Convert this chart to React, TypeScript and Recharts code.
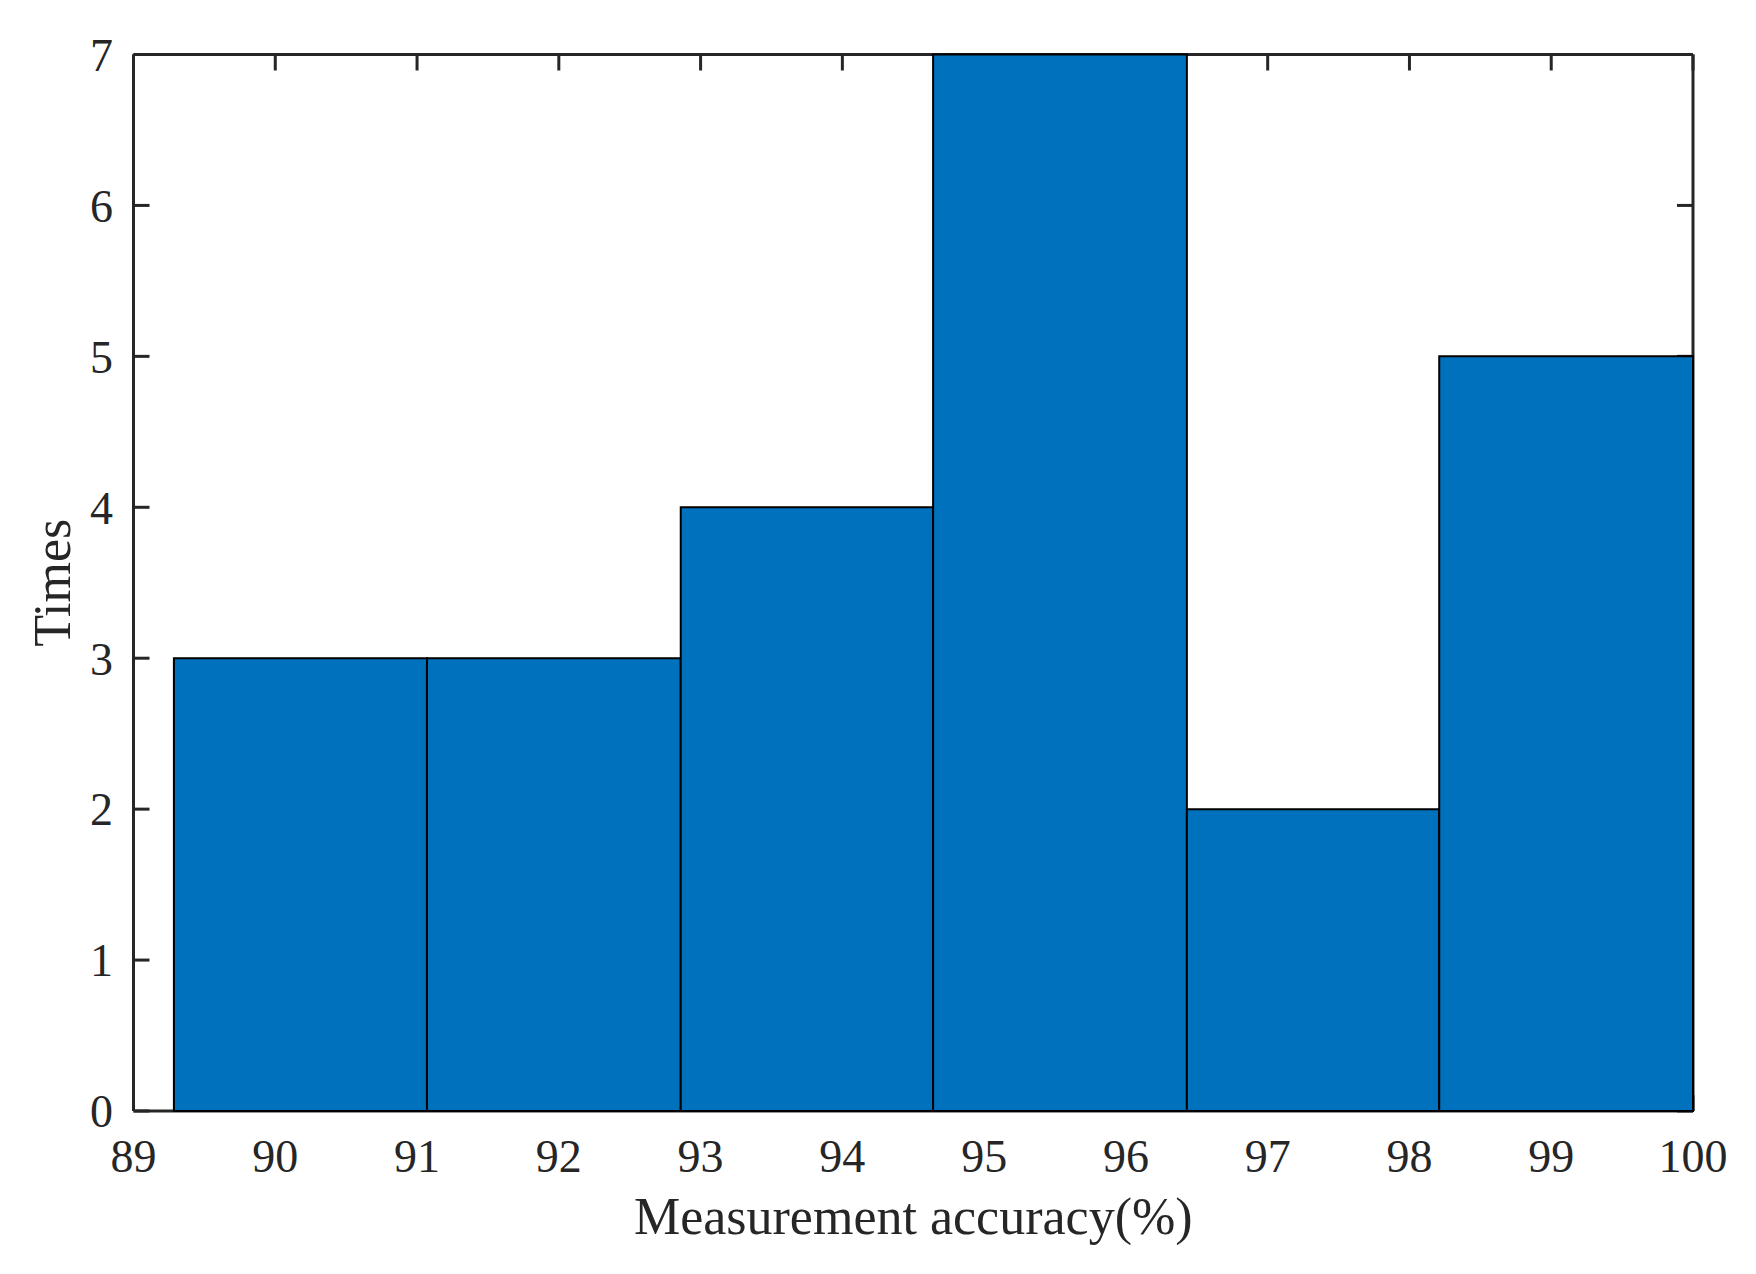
import React from "react";
import {
    ComposedChart,
    XAxis,
    YAxis,
    ReferenceArea,
    Label,
} from "recharts";

// Histogram bins
const binEdges = [89.285, 91.07, 92.86, 94.64, 96.43, 98.21, 100];
const binCounts = [3, 3, 4, 7, 2, 5];

const xTicks = [89, 90, 91, 92, 93, 94, 95, 96, 97, 98, 99, 100];
const yTicks = [0, 1, 2, 3, 4, 5, 6, 7];

const bins = binCounts.map((count, i) => ({
    from: binEdges[i],
    to: binEdges[i + 1],
    mid: (binEdges[i] + binEdges[i + 1]) / 2,
    count,
}));

const AXIS = "#262626";
const FONT = "'Liberation Serif', 'Times New Roman', serif";

// mirror axes (top / right) only show inward tick marks
const blank = () => "";

export default function App() {
    return (
        <div style={{ position: "absolute", left: 0, top: 0, background: "#fff" }}>
            <ComposedChart
                width={1756}
                height={1274}
                data={bins}
                margin={{ top: 0, right: 0, bottom: 0, left: 0 }}
                style={{ fontFamily: FONT }}
            >
                <XAxis
                    xAxisId="top"
                    orientation="top"
                    dataKey="mid"
                    type="number"
                    domain={[89, 100]}
                    ticks={xTicks}
                    interval={0}
                    allowDataOverflow
                    height={54.5}
                    stroke={AXIS}
                    strokeWidth={3}
                    tickSize={-16}
                    tickFormatter={blank}
                />
                <XAxis
                    dataKey="mid"
                    type="number"
                    domain={[89, 100]}
                    ticks={xTicks}
                    interval={0}
                    allowDataOverflow
                    height={163}
                    stroke={AXIS}
                    strokeWidth={3}
                    tickSize={-16}
                    tickMargin={44}
                    tick={{ fill: AXIS, fontSize: 46, fontFamily: FONT }}
                >
                    <Label
                        value="Measurement accuracy(%)"
                        position="insideBottom"
                        offset={40}
                        fill={AXIS}
                        fontSize={52}
                        fontFamily={FONT}
                    />
                </XAxis>
                <YAxis
                    dataKey="count"
                    type="number"
                    domain={[0, 7]}
                    ticks={yTicks}
                    interval={0}
                    allowDataOverflow
                    width={133.5}
                    stroke={AXIS}
                    strokeWidth={3}
                    tickSize={-16}
                    tickMargin={36.5}
                    tick={{ fill: AXIS, fontSize: 46, fontFamily: FONT }}
                >
                    <Label
                        value="Times"
                        angle={-90}
                        position="insideLeft"
                        offset={51.5}
                        fill={AXIS}
                        fontSize={52}
                        fontFamily={FONT}
                        style={{ textAnchor: "middle" }}
                    />
                </YAxis>
                <YAxis
                    yAxisId="right"
                    orientation="right"
                    dataKey="count"
                    type="number"
                    domain={[0, 7]}
                    ticks={yTicks}
                    interval={0}
                    allowDataOverflow
                    width={63}
                    stroke={AXIS}
                    strokeWidth={3}
                    tickSize={-16}
                    tickFormatter={blank}
                />

                {/* one rectangle per histogram bin, drawn over the tick marks */}
                {bins.map((b) => (
                    <ReferenceArea
                        key={b.from}
                        x1={b.from}
                        x2={b.to}
                        y1={0}
                        y2={b.count}
                        fill="#0072BD"
                        fillOpacity={1}
                        stroke="#000"
                        strokeWidth={2}
                        ifOverflow="visible"
                        zIndex={600}
                    />
                ))}
            </ComposedChart>
        </div>
    );
}
